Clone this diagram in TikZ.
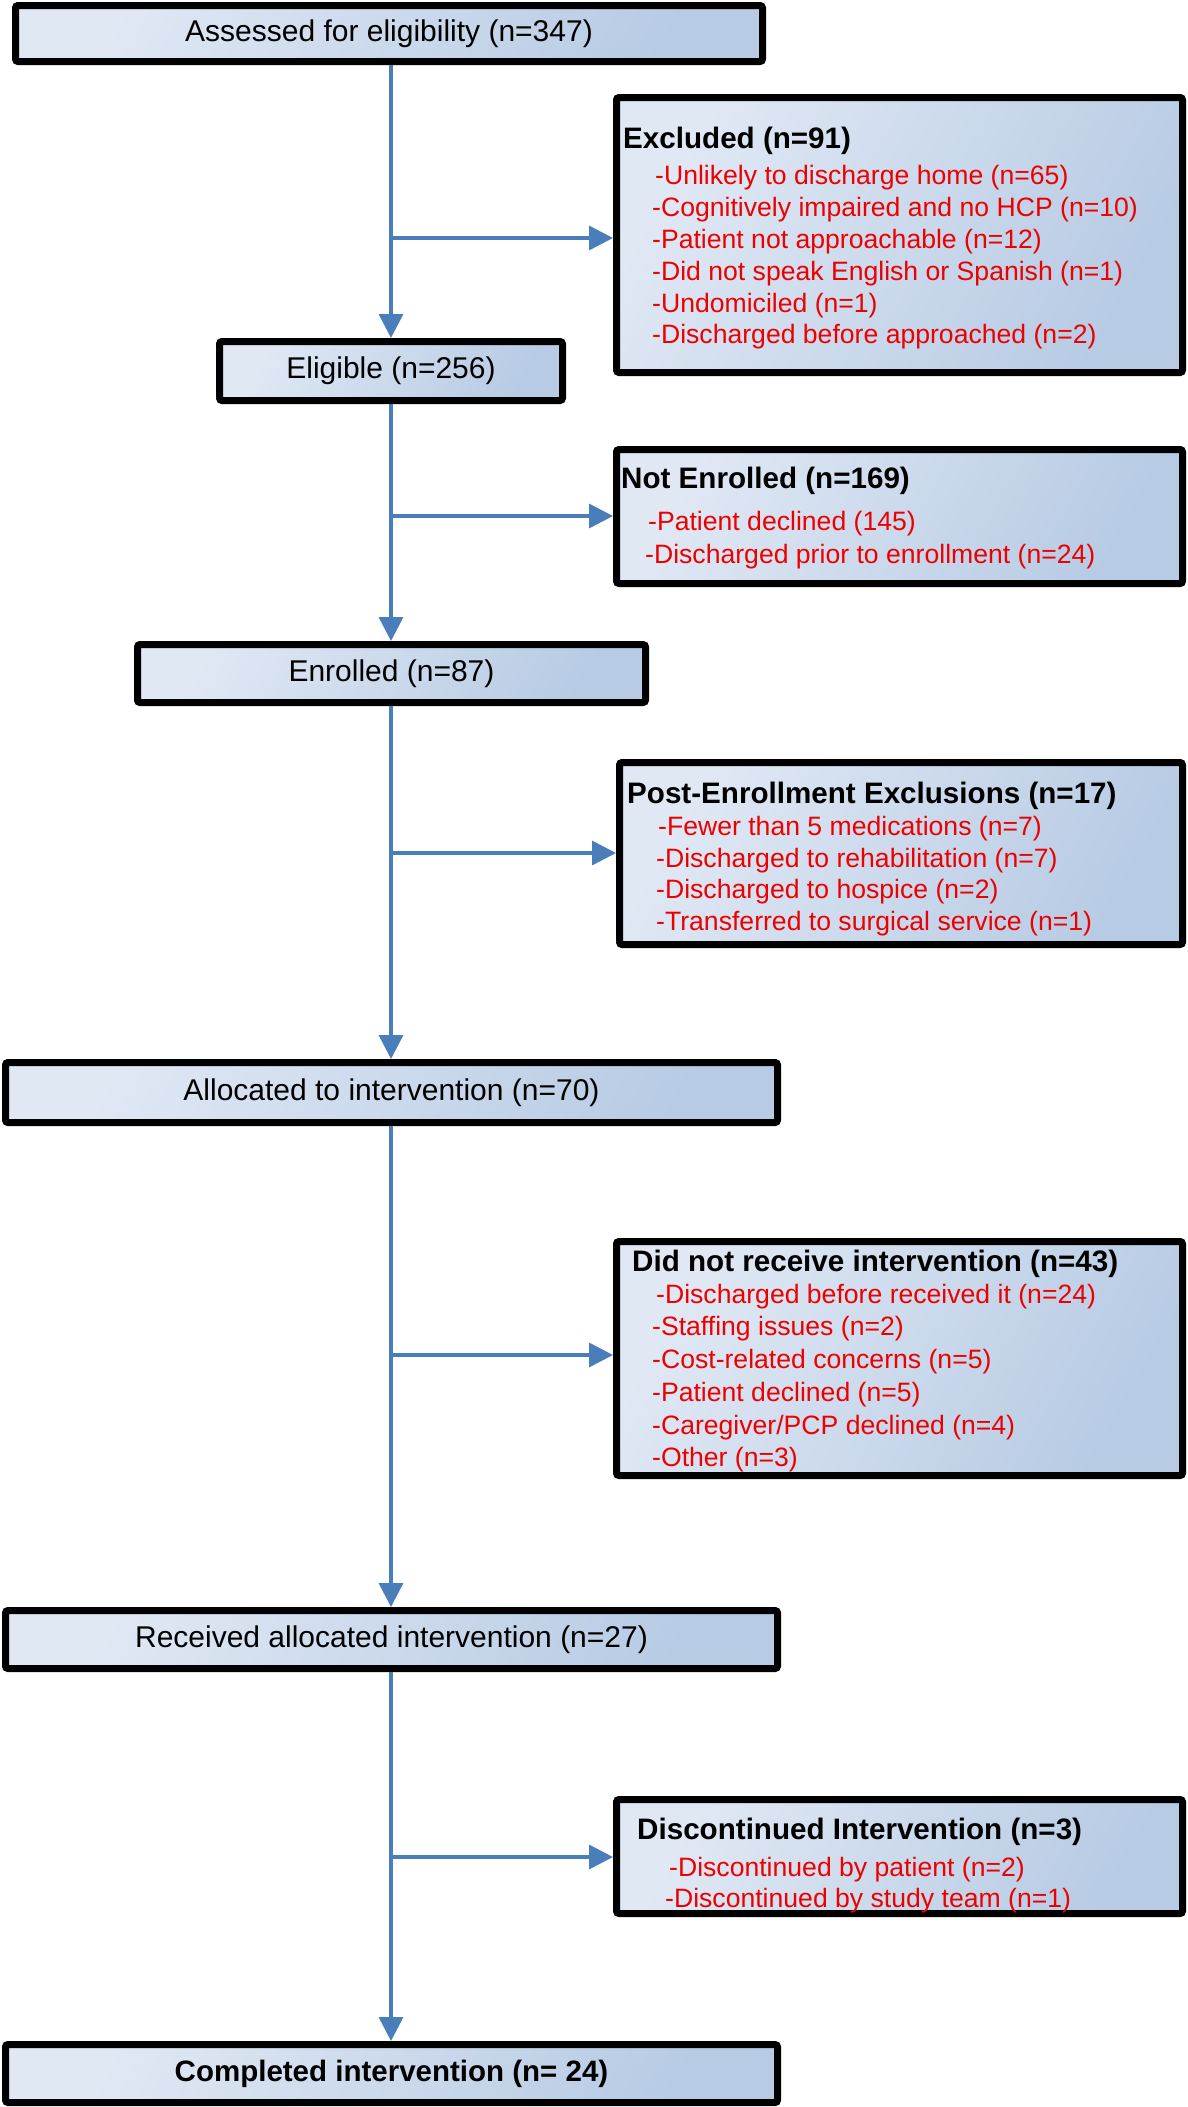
\documentclass[tikz,border=0pt]{standalone}
\usepackage{fontspec}
\setmainfont{Liberation Sans}
\usetikzlibrary{arrows.meta,calc}
\definecolor{boxL}{RGB}{224,232,244}
\definecolor{boxR}{RGB}{183,203,228}
\definecolor{arrblue}{RGB}{74,126,187}
\definecolor{itemred}{RGB}{236,0,0}
\tikzset{
  fbox/.style={draw=black, line width=7pt, rounded corners=2.5pt,
    left color=boxL, right color=boxR, shading angle=60,
    inner sep=0pt, anchor=north west},
  maintext/.style={font=\fontsize{30pt}{36pt}\selectfont, text=black},
  boldtext/.style={font=\fontsize{29.5pt}{35pt}\selectfont\bfseries, text=black},
  headtext/.style={font=\fontsize{29.6pt}{35pt}\selectfont\bfseries, text=black, anchor=base west, inner sep=0pt},
  itemtext/.style={font=\fontsize{26.6pt}{32pt}\selectfont, text=itemred, anchor=base west, inner sep=0pt},
  arr/.style={draw=arrblue, line width=3.5pt, -{Triangle[length=24pt,width=24pt]}}
}
\begin{document}
\begin{tikzpicture}[x=1pt,y=-1pt]
\useasboundingbox (0,0) rectangle (1188,2107);
\coordinate (cx) at (391,0);

% main column boxes (outer edges)
\node[fbox, maintext, minimum width=747pt, minimum height=56pt] (assess) at (12,2) {Assessed for eligibility (n=347)};
\node[fbox, maintext, minimum width=343pt, minimum height=59pt] (elig) at (216,338) {Eligible (n=256)};
\node[fbox, maintext, minimum width=508pt, minimum height=58pt] (enrol) at (134,641) {Enrolled (n=87)};
\node[fbox, maintext, minimum width=772pt, minimum height=60pt] (alloc) at (2,1059) {Allocated to intervention (n=70)};
\node[fbox, maintext, minimum width=772pt, minimum height=58pt] (recv) at (2,1607) {Received allocated intervention (n=27)};
\node[fbox, boldtext, minimum width=772pt, minimum height=58pt] (comp) at (2,2041) {Completed intervention (n= 24)};

% side boxes
\node[fbox, minimum width=566pt, minimum height=275pt] (excl) at (613,94) {};
\node[fbox, minimum width=566pt, minimum height=134pt] (noten) at (613,446) {};
\node[fbox, minimum width=563pt, minimum height=182pt] (post) at (616,759) {};
\node[fbox, minimum width=566pt, minimum height=234pt] (dnr) at (613,1238) {};
\node[fbox, minimum width=566pt, minimum height=114pt] (disc) at (613,1796) {};

% Excluded
\node[headtext] (exh) at (623,148) {Excluded (n=91)};
\node[itemtext] (ex1) at (655,184) {-Unlikely to discharge home (n=65)};
\node[itemtext] (ex2) at (652,216) {-Cognitively impaired and no HCP (n=10)};
\node[itemtext] (ex3) at (652,248) {-Patient not approachable (n=12)};
\node[itemtext] (ex4) at (652,280) {-Did not speak English or Spanish (n=1)};
\node[itemtext] (ex5) at (652,312) {-Undomiciled (n=1)};
\node[itemtext] (ex6) at (652,343) {-Discharged before approached (n=2)};

% Not enrolled
\node[headtext] (neh) at (621,488) {Not Enrolled (n=169)};
\node[itemtext] (ne1) at (648,530) {-Patient declined (145)};
\node[itemtext] (ne2) at (645,563) {-Discharged prior to enrollment (n=24)};

% Post-enrollment
\node[headtext] (peh) at (627,803) {Post-Enrollment Exclusions (n=17)};
\node[itemtext] (pe1) at (658,835) {-Fewer than 5 medications (n=7)};
\node[itemtext] (pe2) at (656,867) {-Discharged to rehabilitation (n=7)};
\node[itemtext] (pe3) at (656,898) {-Discharged to hospice (n=2)};
\node[itemtext] (pe4) at (656,930) {-Transferred to surgical service (n=1)};

% Did not receive
\node[headtext] (dnh) at (632,1271) {Did not receive intervention (n=43)};
\node[itemtext] (dn1) at (656,1303) {-Discharged before received it (n=24)};
\node[itemtext] (dn2) at (652,1335) {-Staffing issues (n=2)};
\node[itemtext] (dn3) at (652,1368) {-Cost-related concerns (n=5)};
\node[itemtext] (dn4) at (652,1401) {-Patient declined (n=5)};
\node[itemtext] (dn5) at (652,1434) {-Caregiver/PCP declined (n=4)};
\node[itemtext] (dn6) at (652,1466) {-Other (n=3)};

% Discontinued
\node[headtext] (dch) at (637,1839) {Discontinued Intervention (n=3)};
\node[itemtext] (dc1) at (669,1876) {-Discontinued by patient (n=2)};
\node[itemtext] (dc2) at (665,1907) {-Discontinued by study team (n=1)};

% vertical connectors
\draw[arr] (assess.south -| cx) -- (elig.north -| cx);
\draw[arr] (elig.south -| cx) -- (enrol.north -| cx);
\draw[arr] (enrol.south -| cx) -- (alloc.north -| cx);
\draw[arr] (alloc.south -| cx) -- (recv.north -| cx);
\draw[arr] (recv.south -| cx) -- (comp.north -| cx);

% branches
\coordinate (b1) at (391,238);
\coordinate (b2) at (391,516);
\coordinate (b3) at (391,853);
\coordinate (b4) at (391,1355);
\coordinate (b5) at (391,1857);
\draw[arr] (b1) -- (b1 -| excl.west);
\draw[arr] (b2) -- (b2 -| noten.west);
\draw[arr] (b3) -- (b3 -| post.west);
\draw[arr] (b4) -- (b4 -| dnr.west);
\draw[arr] (b5) -- (b5 -| disc.west);
\end{tikzpicture}
\end{document}
